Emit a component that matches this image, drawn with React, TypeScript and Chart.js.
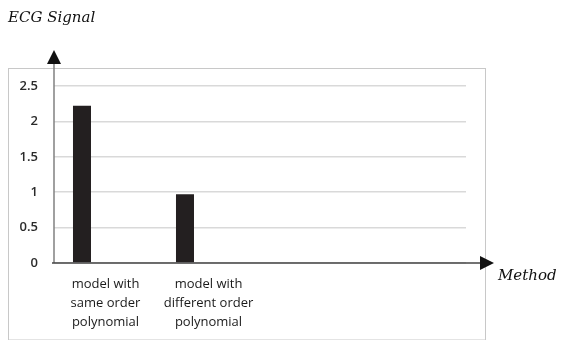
import React, { useEffect, useRef } from "react";
import { Chart, registerables } from "chart.js";

Chart.register(...registerables);

// Methods compared on the horizontal axis (two empty slots keep the Excel-style spacing)
const categories: (string | string[])[] = [
  ["model with", "same order", "polynomial"],
  ["model with", "different order", "polynomial"],
  "",
  "",
];
// ECG signal score for each method
const ecgValues: (number | null)[] = [2.22, 0.97, null, null];
// Companion series that holds no values; it reserves the second slot in each group
const emptySeries: (number | null)[] = [null, null, null, null];
// Value-axis ticks
const yTicks = [0, 0.5, 1, 1.5, 2, 2.5];

const yAxisTitle = "ECG Signal";
const xAxisTitle = "Method";

const framePlugin = {
  id: "frameAndArrows",
  afterDraw(chart: Chart) {
    const { ctx, chartArea } = chart;
    const { left, right, top, bottom } = chartArea;
    ctx.save();

    // outer frame
    ctx.strokeStyle = "#c8c8c8";
    ctx.lineWidth = 1;
    ctx.strokeRect(8.5, top - 18 + 0.5, right + 19 - 8, chart.height - (top - 18) - 0.5);

    // vertical axis with arrow head
    ctx.strokeStyle = "#808080";
    ctx.lineWidth = 1.5;
    ctx.beginPath();
    ctx.moveTo(left, bottom);
    ctx.lineTo(left, top - 22);
    ctx.stroke();
    ctx.fillStyle = "#111";
    ctx.beginPath();
    ctx.moveTo(left, top - 36);
    ctx.lineTo(left - 7, top - 22);
    ctx.lineTo(left + 7, top - 22);
    ctx.closePath();
    ctx.fill();

    // horizontal axis with arrow head
    ctx.strokeStyle = "#444";
    ctx.lineWidth = 1.5;
    ctx.beginPath();
    ctx.moveTo(left - 2, bottom);
    ctx.lineTo(right + 14, bottom);
    ctx.stroke();
    ctx.fillStyle = "#111";
    ctx.beginPath();
    ctx.moveTo(right + 28, bottom);
    ctx.lineTo(right + 14, bottom - 7);
    ctx.lineTo(right + 14, bottom + 7);
    ctx.closePath();
    ctx.fill();

    // axis titles
    ctx.fillStyle = "#111";
    ctx.font = "italic 15px 'DejaVu Serif'";
    ctx.textAlign = "left";
    ctx.textBaseline = "middle";
    ctx.fillText(yAxisTitle, 8, 18);
    ctx.fillText(xAxisTitle, right + 32, bottom + 13);

    ctx.restore();
  },
};

export default function App() {
  const canvasRef = useRef<HTMLCanvasElement | null>(null);

  useEffect(() => {
    if (!canvasRef.current) return;
    const chart = new Chart(canvasRef.current, {
      type: "bar",
      data: {
        labels: categories,
        datasets: [
          {
            label: yAxisTitle,
            data: ecgValues,
            backgroundColor: "#231f20",
            borderWidth: 0,
            categoryPercentage: 0.913,
            barPercentage: 0.383,
          },
          {
            label: "Series 2",
            data: emptySeries,
            backgroundColor: "#231f20",
            borderWidth: 0,
            categoryPercentage: 0.913,
            barPercentage: 0.383,
          },
        ],
      },
      options: {
        responsive: false,
        animation: false,
        layout: { padding: { left: 0, right: 95, top: 86, bottom: 0 } },
        plugins: {
          legend: { display: false },
          tooltip: { enabled: false },
          title: { display: false },
        },
        scales: {
          x: {
            grid: { display: false },
            border: { display: false },
            ticks: {
              color: "#1a1a1a",
              padding: 4,
              maxRotation: 0,
              autoSkip: false,
              font: { family: "'Open Sans'", size: 13, weight: 500, lineHeight: 1.45 },
            },
            afterFit(scale: any) {
              scale.height = 77;
            },
          },
          y: {
            min: 0,
            max: 2.5,
            afterBuildTicks(scale: any) {
              scale.ticks = yTicks.map((v) => ({ value: v }));
            },
            grid: { color: "#d9d9d9", lineWidth: 1.5, drawTicks: false },
            border: { display: false },
            ticks: {
              color: "#2a2a2a",
              padding: 16,
              font: { family: "'Open Sans'", size: 13, weight: 600 },
              callback: (v: any) => String(v),
            },
            afterFit(scale: any) {
              scale.width = 54;
            },
          },
        },
      },
      plugins: [framePlugin],
    });
    return () => chart.destroy();
  }, []);

  return (
    <div style={{ position: "absolute", left: 0, top: 0, width: 561, height: 340, background: "#fff" }}>
      <canvas ref={canvasRef} width={561} height={340} style={{ display: "block" }} />
    </div>
  );
}
